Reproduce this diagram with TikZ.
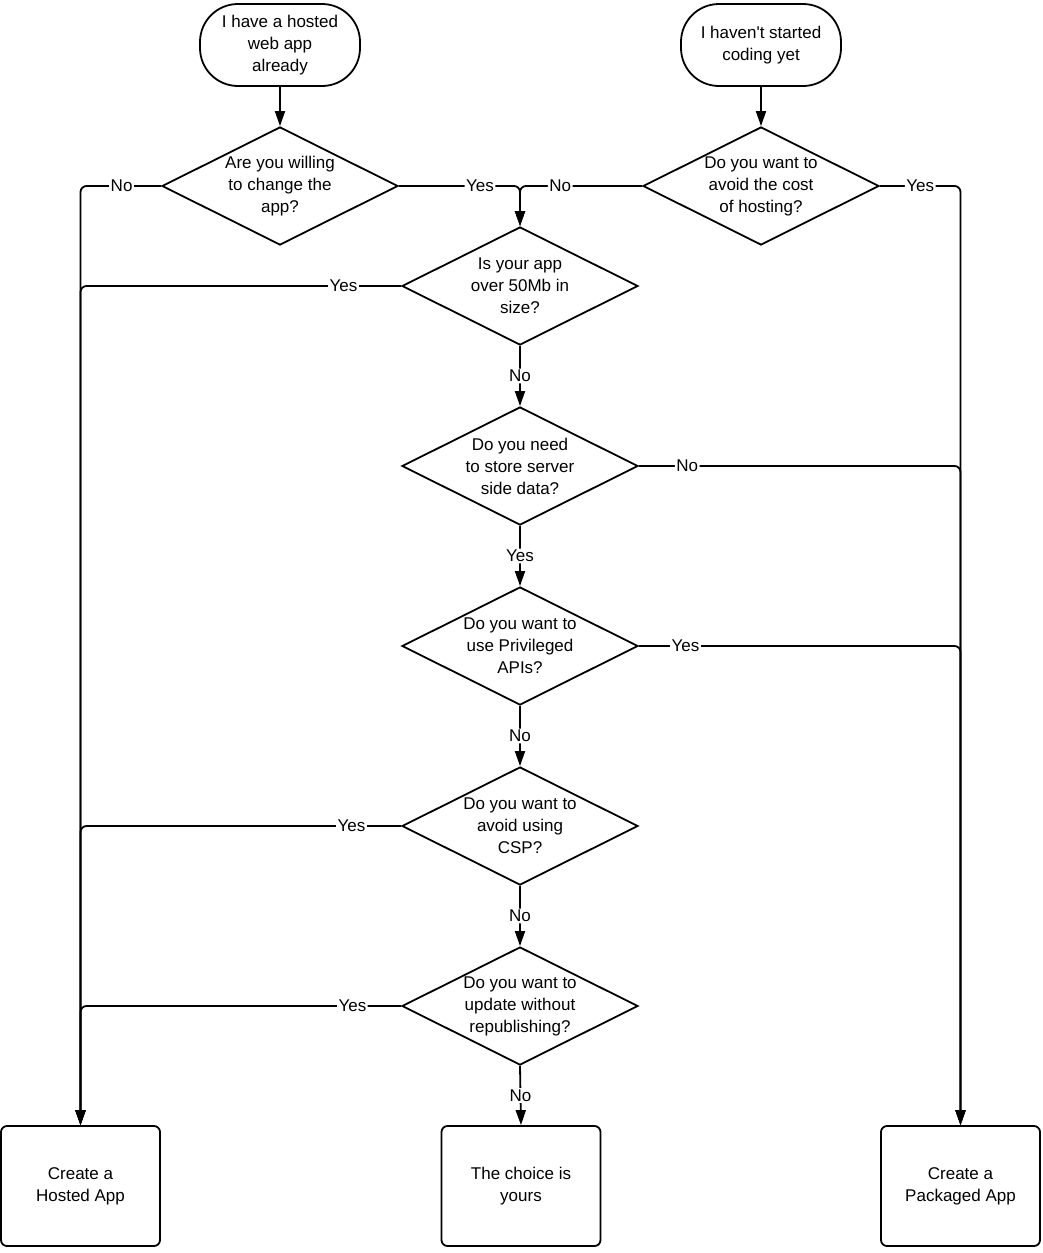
\documentclass[tikz,border=0pt]{standalone}
\usepackage{fontspec}
\setmainfont{Liberation Sans}
\usetikzlibrary{shapes.geometric,arrows.meta}
\begin{document}
\begin{tikzpicture}[x=1pt,y=-1pt,
  every node/.style={font=\fontsize{17}{22}\selectfont, align=center},
  startbox/.style={draw, line width=1.8pt, rectangle, rounded corners=38pt, minimum width=160pt, minimum height=82pt, inner sep=0pt},
  endbox/.style={draw, line width=1.8pt, rectangle, rounded corners=6pt, minimum width=159pt, minimum height=120pt, inner sep=0pt},
  decision/.style={draw, line width=1.8pt, diamond, aspect=2, inner sep=0pt, minimum width=236pt, minimum height=118pt},
  conn/.style={line width=1.8pt, rounded corners=6pt},
  arr/.style={conn, -{Triangle[length=15pt,width=10pt]}},
  lbl/.style={fill=white, inner sep=1.5pt, font=\fontsize{17}{20}\selectfont}
]
\useasboundingbox (0,0) rectangle (1042,1253);
\node[startbox] (s1) at (280,45) {I have a hosted\\web app\\already};
\node[startbox] (s2) at (761,45) {I haven\textquotesingle t started\\coding yet};
\node[decision] (d1) at (280,186) {Are you willing\\to change the\\app?};
\node[decision] (d2) at (761,186) {Do you want to\\avoid the cost\\of hosting?};
\node[decision] (d3) at (520,286) {Is your app\\over 50Mb in\\size?};
\node[decision] (d4) at (520,466) {Do you need\\to store server\\side data?};
\node[decision] (d5) at (520,646) {Do you want to\\use Privileged\\APIs?};
\node[decision] (d6) at (520,826) {Do you want to\\avoid using\\CSP?};
\node[decision] (d7) at (520,1006) {Do you want to\\update without\\republishing?};
\node[endbox] (hosted) at (80.5,1186) {Create a\\Hosted App};
\node[endbox] (choice) at (521,1186) {The choice is\\yours};
\node[endbox] (packaged) at (960.5,1186) {Create a\\Packaged App};

\draw[arr] (s1) -- (d1);
\draw[arr] (s2) -- (d2);

\draw[arr] (d1.west) -- node[lbl, pos=0.49] {No} (d1.west -| hosted.north) -- (hosted.north);
\draw[arr] (d1.east) -- node[lbl, pos=0.67] {Yes} (d1.east -| d3.north) -- (d3.north);
\draw[arr] (d2.west) -- node[lbl, pos=0.67] {No} (d2.west -| d3.north) -- (d3.north);
\draw[arr] (d2.east) -- node[lbl, pos=0.5] {Yes} (d2.east -| packaged.north) -- (packaged.north);

\draw[arr] (d3.west) -- node[lbl, pos=0.18] {Yes} (d3.west -| hosted.north) -- (hosted.north);
\draw[arr] (d3.south) -- node[lbl] {No} (d4.north);
\draw[arr] (d4.east) -- node[lbl, pos=0.15] {No} (d4.east -| packaged.north) -- (packaged.north);
\draw[arr] (d4.south) -- node[lbl] {Yes} (d5.north);
\draw[arr] (d5.east) -- node[lbl, pos=0.145] {Yes} (d5.east -| packaged.north) -- (packaged.north);
\draw[arr] (d5.south) -- node[lbl] {No} (d6.north);
\draw[arr] (d6.west) -- node[lbl, pos=0.155] {Yes} (d6.west -| hosted.north) -- (hosted.north);
\draw[arr] (d6.south) -- node[lbl] {No} (d7.north);
\draw[arr] (d7.west) -- node[lbl, pos=0.152] {Yes} (d7.west -| hosted.north) -- (hosted.north);
\draw[arr] (d7.south) -- node[lbl] {No} (choice.north);
\end{tikzpicture}
\end{document}
